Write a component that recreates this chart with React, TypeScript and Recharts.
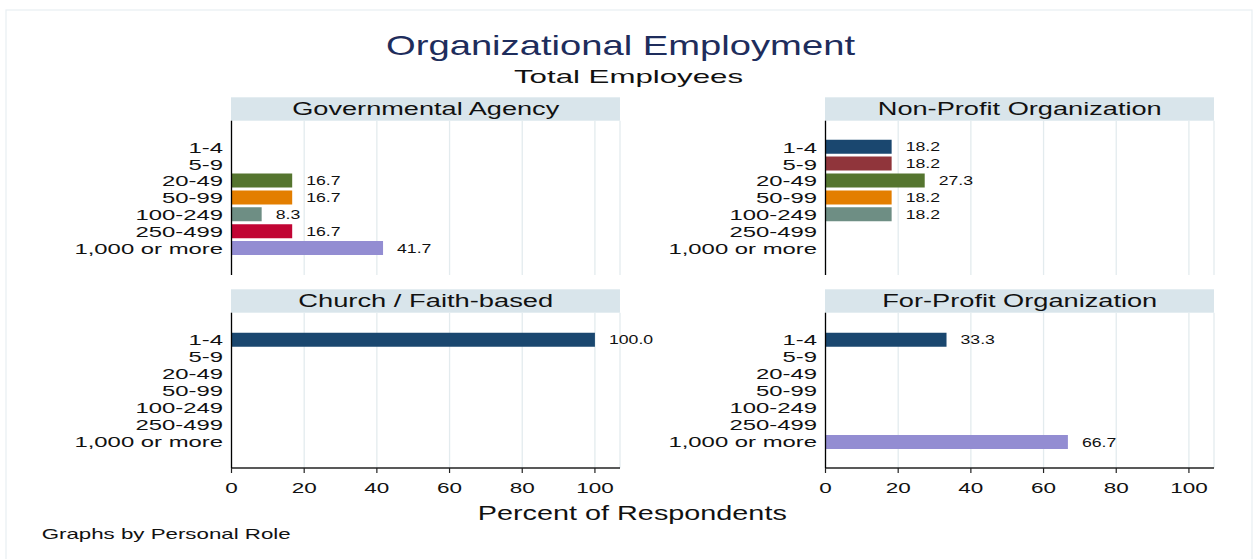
import React from 'react';
import { BarChart, Bar, XAxis, YAxis, CartesianGrid, Cell, LabelList } from 'recharts';

// ---- data ----
const categories = ['1-4', '5-9', '20-49', '50-99', '100-249', '250-499', '1,000 or more'];
const governmental: (number | null)[] = [null, null, 16.7, 16.7, 8.3, 16.7, 41.7];
const nonProfit: (number | null)[] = [18.2, 18.2, 27.3, 18.2, 18.2, null, null];
const church: (number | null)[] = [100.0, null, null, null, null, null, null];
const forProfit: (number | null)[] = [33.3, null, null, null, null, null, 66.7];
const categoryColors = ['#1a476f', '#90353b', '#55752f', '#e37e00', '#6e8e84', '#c10534', '#938dd2'];
const xTicks = [0, 20, 40, 60, 80, 100];
const panelTitles = ['Governmental Agency', 'Non-Profit Organization', 'Church / Faith-based', 'For-Profit Organization'];

// ---- layout ----
const W = 1253;
const H = 559;
const FONT = "'Liberation Sans', Arial, Helvetica, sans-serif";
const X_MAX = 106.9;
const Y_AXIS_W = 200;
const X_AXIS_H = 30;

type PanelLayout = { left: number; right: number; top: number; bottom: number; showX: boolean; stripTop: number; titleLen: number };
const layouts: PanelLayout[] = [
  { left: 231.5, right: 620, top: 120.7, bottom: 275, showX: false, stripTop: 97.3, titleLen: 267 },
  { left: 825.5, right: 1214, top: 120.7, bottom: 275, showX: false, stripTop: 97.3, titleLen: 284 },
  { left: 231.5, right: 620, top: 312.7, bottom: 468, showX: true, stripTop: 289.3, titleLen: 255 },
  { left: 825.5, right: 1214, top: 312.7, bottom: 468, showX: true, stripTop: 289.3, titleLen: 275 },
];
const panelValues = [governmental, nonProfit, church, forProfit];

function Panel({ values, lay }: { values: (number | null)[]; lay: PanelLayout }) {
  const data = categories.map((c, i) => ({ cat: c, value: values[i] }));
  const margin = {
    left: lay.left - Y_AXIS_W,
    right: W - lay.right,
    top: lay.top,
    bottom: H - lay.bottom - (lay.showX ? X_AXIS_H : 0),
  };
  const yTick = (p: any) => (
    <text
      transform={`translate(${lay.left - 8.5},${p.y + 5.5}) scale(1.55,1)`}
      textAnchor="end"
      fontSize={15.4}
      fontFamily={FONT}
      fill="#111"
    >
      {p.payload.value}
    </text>
  );
  const xTick = (p: any) => (
    <text
      transform={`translate(${p.x},${lay.bottom + 25.3}) scale(1.5,1)`}
      textAnchor="middle"
      fontSize={15}
      fontFamily={FONT}
      fill="#111"
    >
      {p.payload.value}
    </text>
  );
  const valueLabel = (p: any) => {
    if (p.value == null) return null;
    const x = Number(p.x) + Number(p.width) + 14;
    const y = Number(p.y) + Number(p.height) / 2 + 4.6;
    return (
      <text transform={`translate(${x},${y}) scale(1.36,1)`} textAnchor="start" fontSize={13} fontFamily={FONT} fill="#111">
        {Number(p.value).toFixed(1)}
      </text>
    );
  };
  return (
    <div style={{ position: 'absolute', left: 0, top: 0 }}>
      <BarChart width={W} height={H} data={data} layout="vertical" margin={margin} barSize={14}>
        <CartesianGrid horizontal={false} stroke="#e3ebee" strokeWidth={1.3} />
        <XAxis
          type="number"
          domain={[0, X_MAX]}
          ticks={xTicks}
          allowDataOverflow
          hide={!lay.showX}
          height={X_AXIS_H}
          axisLine={{ stroke: '#222', strokeWidth: 1.3 }}
          tickLine={{ stroke: '#222', strokeWidth: 1.2 }}
          tickSize={5}
          tick={xTick}
        />
        <YAxis
          type="category"
          dataKey="cat"
          width={Y_AXIS_W}
          padding={{ top: 18, bottom: 18 }}
          axisLine={{ stroke: '#000', strokeWidth: 1.3 }}
          tickLine={false}
          interval={0}
          tick={yTick}
        />
        <Bar dataKey="value" isAnimationActive={false}>
          {data.map((d, i) => (
            <Cell key={i} fill={categoryColors[i]} />
          ))}
          <LabelList dataKey="value" content={valueLabel} />
        </Bar>
      </BarChart>
    </div>
  );
}

export default function App() {
  return (
    <div style={{ position: 'absolute', left: 0, top: 0, width: W, height: H, background: '#fff', overflow: 'hidden' }}>
      <svg width={W} height={H} style={{ position: 'absolute', left: 0, top: 0 }}>
        <rect x={6} y={10} width={1246} height={560} fill="none" stroke="#e8eff2" strokeWidth={1.2} />
        <text x={620.5} y={55} textAnchor="middle" fontSize={28} fontFamily={FONT} fill="#1e2d5c" textLength={469} lengthAdjust="spacingAndGlyphs">
          Organizational Employment
        </text>
        <text x={628.5} y={83} textAnchor="middle" fontSize={19} fontFamily={FONT} fill="#111" textLength={229} lengthAdjust="spacingAndGlyphs">
          Total Employees
        </text>
        {layouts.map((lay, i) => (
          <g key={i}>
            <rect x={lay.left - 0.5} y={lay.stripTop} width={lay.right - lay.left + 0.5} height={23.4} fill="#d9e5eb" />
            <text
              x={(lay.left + lay.right) / 2}
              y={lay.stripTop + 17.7}
              textAnchor="middle"
              fontSize={17.5}
              fontFamily={FONT}
              fill="#111"
              textLength={lay.titleLen}
              lengthAdjust="spacingAndGlyphs"
            >
              {panelTitles[i]}
            </text>
          </g>
        ))}
        <text x={632.3} y={520} textAnchor="middle" fontSize={20} fontFamily={FONT} fill="#111" textLength={309} lengthAdjust="spacingAndGlyphs">
          Percent of Respondents
        </text>
        <text x={41.7} y={539.3} textAnchor="start" fontSize={15} fontFamily={FONT} fill="#111" textLength={249} lengthAdjust="spacingAndGlyphs">
          Graphs by Personal Role
        </text>
      </svg>
      {layouts.map((lay, i) => (
        <Panel key={i} values={panelValues[i]} lay={lay} />
      ))}
    </div>
  );
}
